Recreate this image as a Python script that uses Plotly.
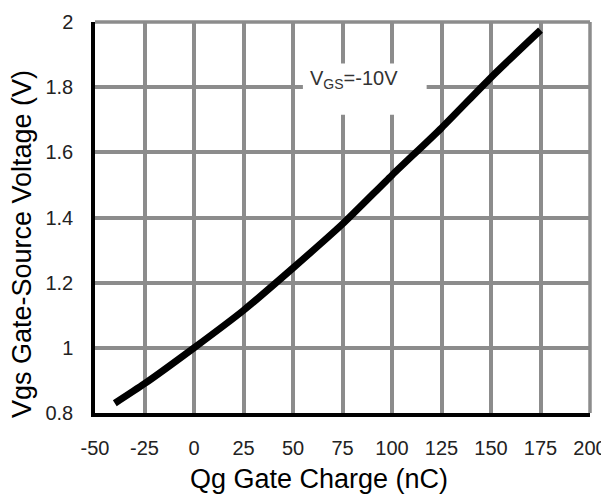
import plotly.graph_objects as go

# Data
qg_nc = [-40, -25, 0, 25, 50, 75, 100, 125, 150, 175]
vgs_v = [0.83, 0.89, 1.0, 1.115, 1.245, 1.38, 1.53, 1.675, 1.83, 1.975]

x_ticks = [-50, -25, 0, 25, 50, 75, 100, 125, 150, 175, 200]
y_ticks = [0.8, 1.0, 1.2, 1.4, 1.6, 1.8, 2.0]
y_tick_labels = ["0.8", "1", "1.2", "1.4", "1.6", "1.8", "2"]

x_title = "Qg Gate Charge (nC)"
y_title = "Vgs Gate-Source Voltage (V)"
curve_label = "V<sub>GS</sub>=-10V"

FONT = "Liberation Sans, Arial, sans-serif"
GRID = "#8c8c8c"

fig = go.Figure()
fig.add_trace(go.Scatter(x=qg_nc, y=vgs_v, mode="lines",
                         line=dict(color="black", width=7, shape="spline", smoothing=0.6),
                         showlegend=False, hoverinfo="skip"))

# the page body has an 8px margin, so the figure is 8px smaller than the window
fig.update_layout(
    width=601, height=493,
    margin=dict(l=87, r=19, t=14, b=88),
    paper_bgcolor="white", plot_bgcolor="white",
    font=dict(family=FONT, color="#1a1a1a"),
    xaxis=dict(range=[-50, 200], tickvals=x_ticks, ticktext=[str(v) for v in x_ticks],
               showgrid=True, gridcolor=GRID, gridwidth=3.5,
               showline=True, linecolor="black", linewidth=3.5,
               zeroline=False, ticks="", ticklabelstandoff=14,
               tickfont=dict(size=20, color="#222"), automargin=False),
    yaxis=dict(range=[0.8, 2.0], tickvals=y_ticks, ticktext=y_tick_labels,
               showgrid=True, gridcolor=GRID, gridwidth=3.5,
               showline=True, linecolor="black", linewidth=3.5,
               zeroline=False, ticks="", ticklabelstandoff=14,
               tickfont=dict(size=20, color="#222"), automargin=False),
)

# top and right frame lines in grid colour
fig.add_shape(type="line", xref="x domain", yref="y domain", x0=0, x1=1, y0=1, y1=1,
              line=dict(color=GRID, width=3.5), layer="below")
fig.add_shape(type="line", xref="x domain", yref="y domain", x0=1, x1=1, y0=0, y1=1,
              line=dict(color=GRID, width=3.5), layer="below")

# white box behind the label, covering gridlines
fig.add_shape(type="rect", xref="x", yref="y", x0=55, x1=117.5, y0=1.715, y1=1.873,
              fillcolor="white", line=dict(width=0), layer="between")

fig.add_annotation(x=0.523, y=0.853, xref="paper", yref="paper", text=curve_label,
                   showarrow=False, font=dict(size=20, color="#333", family=FONT),
                   xanchor="center", yanchor="middle")

fig.add_annotation(x=0.453, y=-0.169, xref="paper", yref="paper", text=x_title,
                   showarrow=False, font=dict(size=27, color="black", family=FONT),
                   xanchor="center", yanchor="middle")
fig.add_annotation(x=-0.1475, y=0.432, xref="paper", yref="paper", text=y_title,
                   showarrow=False, textangle=-90,
                   font=dict(size=27, color="black", family=FONT),
                   xanchor="center", yanchor="middle")

fig.write_html("out.html")
